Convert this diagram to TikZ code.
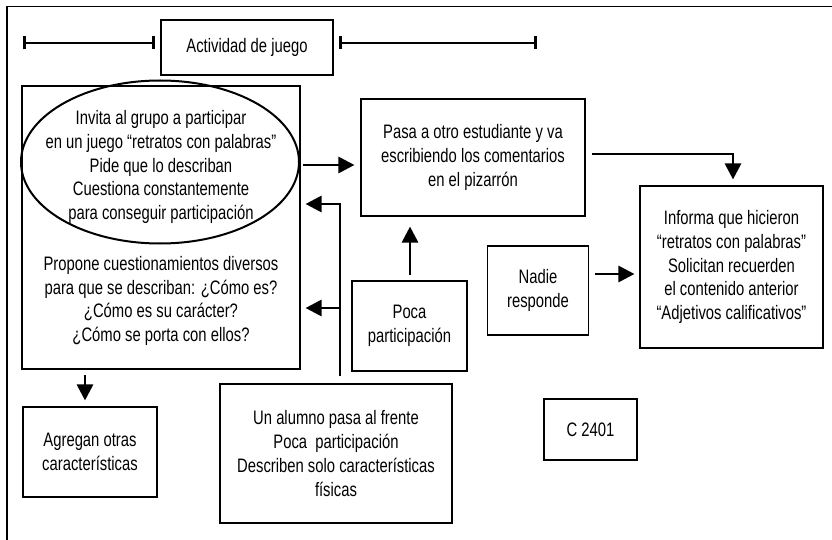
\documentclass[tikz,border=0pt]{standalone}
\usepackage{fontspec}
\setmainfont{Liberation Sans}[FakeStretch=0.76]
\usetikzlibrary{arrows.meta,calc,shapes.geometric}
\tikzset{
  box/.style={draw,line width=1.1pt,inner sep=2pt,align=center,font=\fontsize{19.5}{23.7}\selectfont},
  txt/.style={inner sep=0pt,align=center,font=\fontsize{19.5}{23.7}\selectfont},
  arr/.style={line width=2.8pt,-{Triangle[width=16pt,length=16pt]}},
  bars/.style={line width=2.8pt,{Bar[width=13pt]}-{Bar[width=13pt]}}
}
\begin{document}
\begin{tikzpicture}[x=1pt,y=-1pt]
    \useasboundingbox (0,0) rectangle (832,540);
    \draw[line width=1.5pt] (832,6.5) -- (7,6.5) -- (7,540);
    \node[box,minimum width=172pt,minimum height=55pt] (act) at (247,47.5) {Actividad de juego};
    \coordinate (b1) at (23,43);
    \coordinate (b2) at (155,43);
    \coordinate (b3) at (339,43);
    \coordinate (b4) at (537,43);
    \draw[bars] (b1) -- (b2);
    \draw[bars] (b3) -- (b4);
    \node[box,minimum width=278pt,minimum height=283pt] (left) at (161,227.5) {};
    \node[draw,ellipse,line width=2pt,minimum width=278pt,minimum height=163pt] (inv) at (160,162) {};
    \node[txt] (invt) at (161,167) {Invita al grupo a participar\\en un juego “retratos con palabras”\\Pide que lo describan\\Cuestiona constantemente\\para conseguir participación};
    \node[txt] (prop) at (161,301) {Propone cuestionamientos diversos\\para que se describan: ¿Cómo es?\\¿Cómo es su carácter?\\¿Cómo se porta con ellos?};
    \node[box,minimum width=134pt,minimum height=90pt] (agr) at (90,452) {Agregan otras\\características};
    \node[box,minimum width=232pt,minimum height=139pt] (alum) at (336,453.5) {Un alumno pasa al frente\\Poca\ \ participación\\Describen solo características\\físicas};
    \node[box,minimum width=224pt,minimum height=117pt] (pasa) at (473,157.5) {Pasa a otro estudiante y va\\escribiendo los comentarios\\en el pizarrón};
    \node[box,minimum width=115pt,minimum height=90pt] (poca) at (409.5,326) {Poca\\participación};
    \node[box,minimum width=101pt,minimum height=89pt] (nadie) at (538,290.5) {Nadie\\responde};
    \node[box,minimum width=183pt,minimum height=162pt] (inf) at (731.5,267) {Informa que hicieron\\“retratos con palabras”\\Solicitan recuerden\\el contenido anterior\\“Adjetivos calificativos”};
    \node[box,minimum width=93pt,minimum height=61pt] (code) at (590.5,429.5) {C 2401};
    \draw[arr] ($(inv.east)+(3,3)$) -- ($(pasa.west)+(-6,7.5)$);
    \coordinate (up) at ($(alum.north)+(4,-7)$);
    \draw[line width=2.8pt] (up) -- ($(up |- left.east)+(0,-24.9)$);
    \draw[arr] ($(up |- left.east)+(0,-23.5)$) -- ($(left.east)+(5,-23.5)$);
    \draw[arr] ($(up |- left.east)+(0,80.5)$) -- ($(left.east)+(5,80.5)$);
    \draw[arr] ($(poca.north)+(0.5,-5)$) -- ($(poca.north |- pasa.south)+(0.5,10)$);
    \draw[arr] ($(pasa.east)+(6,-3.5)$) -| ($(inf.north)+(1.5,-6)$);
    \draw[arr] ($(nadie.east)+(6,-16.5)$) -- ($(nadie.east -| inf.west)+(-5,-16.5)$);
    \draw[arr] ($(agr.north)+(-5,-31)$) -- ($(agr.north)+(-5,-6)$);
\end{tikzpicture}
\end{document}
